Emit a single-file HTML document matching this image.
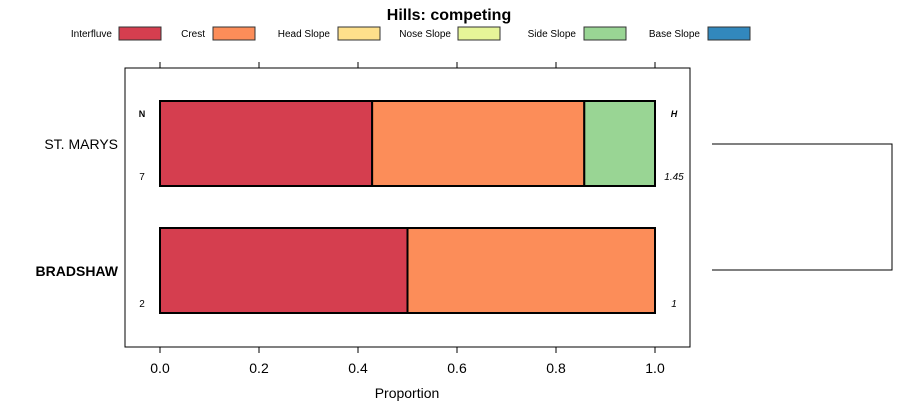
<!DOCTYPE html>
<html><head><meta charset="utf-8"><style>
body{margin:0;background:#fff}
svg{font-family:"Liberation Sans",sans-serif;display:block}
</style></head><body>
<svg width="900" height="420" id="c">
<text x="449" y="20" text-anchor="middle" font-size="16" font-weight="bold">Hills: competing</text>
<g id="legend"></g>
<rect x="125" y="68" width="565" height="279" fill="none" stroke="#000" stroke-width="1"/>
<g id="axes"></g>
<g id="bars"></g>
<text x="142" y="117" font-size="9" font-weight="bold" text-anchor="middle">N</text>
<text x="674" y="117" font-size="9" font-weight="bold" font-style="italic" text-anchor="middle">H</text>
<text x="407" y="398" font-size="14" text-anchor="middle">Proportion</text>
<path d="M712 144H892V270H712" fill="none" stroke="#000"/>
</svg>
<script>
const categories=["Interfluve","Crest","Head Slope","Nose Slope","Side Slope","Base Slope"];
const colors=["#D53E4F","#FC8D59","#FEE08B","#E6F598","#99D594","#3288BD"];
const sites=["ST. MARYS","BRADSHAW"];
const stMarys=[3/7,3/7,0,0,1/7,0];
const bradshaw=[0.5,0.5,0,0,0,0];
const nValues=["7","2"];
const hValues=["1.45","1"];
const ticks=[0,0.2,0.4,0.6,0.8,1.0];
const ns="http://www.w3.org/2000/svg";
const x=v=>160+v*495;
const rowY=[101,228], rowH=85;
function mk(t,a,p){const e=document.createElementNS(ns,t);for(const k in a)e.setAttribute(k,a[k]);p.appendChild(e);return e;}
const lg=document.getElementById('legend');
const lx=[[112,119],[205,213],[330,338],[451,458],[576,584],[700,708]];
categories.forEach((c,i)=>{
 const t=mk('text',{x:lx[i][0],y:37,'font-size':10,'text-anchor':'end'},lg);t.textContent=c;
 
 
 const r=mk('rect',{x:lx[i][1],y:27,width:42,height:13,fill:colors[i],stroke:'#333'},lg);
 
 
});
const ax=document.getElementById('axes');
ticks.forEach(v=>{
 mk('line',{x1:x(v),x2:x(v),y1:62,y2:68,stroke:'#000'},ax);
 mk('line',{x1:x(v),x2:x(v),y1:347,y2:353,stroke:'#000'},ax);
 const t=mk('text',{x:x(v),y:373,'font-size':14,'text-anchor':'middle'},ax);t.textContent=v.toFixed(1);
 
 
});
const bg=document.getElementById('bars');
[stMarys,bradshaw].forEach((vals,r)=>{
 let cum=0;
 vals.forEach((v,i)=>{
  if(v<=0)return;
  const b=mk('rect',{x:x(cum),y:rowY[r],width:x(cum+v)-x(cum),height:rowH,fill:colors[i],stroke:'#000','stroke-width':2},bg);
  
  
  cum+=v;
 });
 const lab=mk('text',{x:118,y:rowY[r]+48,'font-size':14,'text-anchor':'end','font-weight':r==1?'bold':'normal'},bg);lab.textContent=sites[r];
 
 
 const n=mk('text',{x:142,y:rowY[r]+79,'font-size':10,'text-anchor':'middle'},bg);n.textContent=nValues[r];
 
 
 const h=mk('text',{x:674,y:rowY[r]+79,'font-size':10,'font-style':'italic','text-anchor':'middle'},bg);h.textContent=hValues[r];
 
 
});
</script>
</body></html>
